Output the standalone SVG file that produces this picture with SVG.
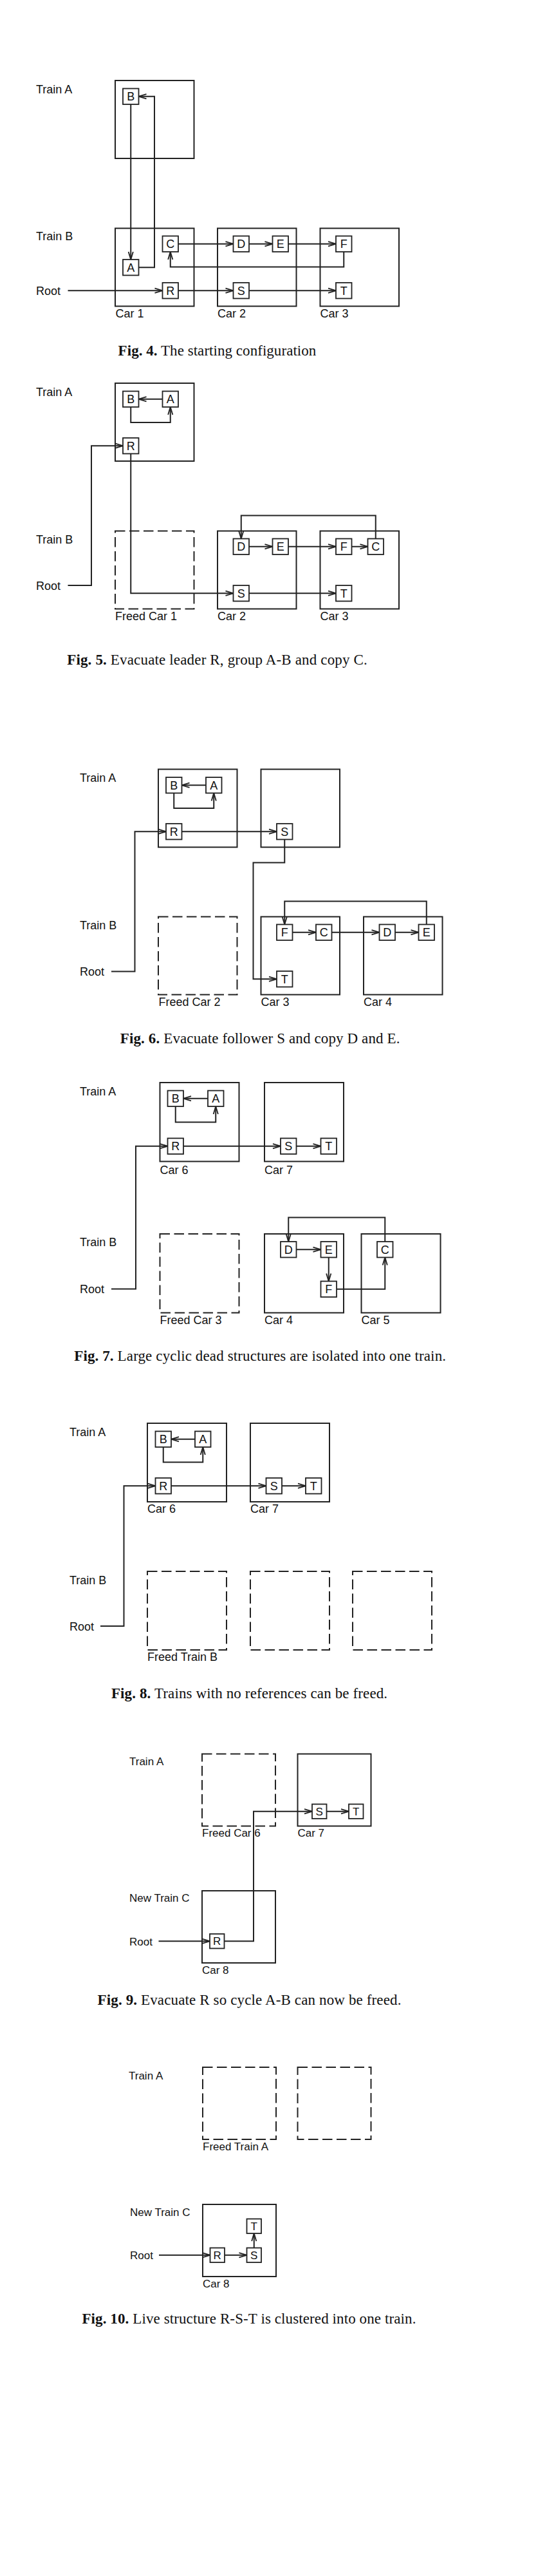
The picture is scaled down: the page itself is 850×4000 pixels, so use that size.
<svg xmlns="http://www.w3.org/2000/svg" width="850" height="4000" viewBox="0 0 850 4000">
<defs>
<style>
.bg{fill:#fff}
.car{fill:none;stroke:#222;stroke-width:2}
.freed{fill:none;stroke:#222;stroke-width:2;stroke-dasharray:15.5 6.5}
.node rect{fill:#fff;stroke:#222;stroke-width:1.8}
.node text{font-family:"Liberation Sans",Arial,sans-serif;font-size:18px;fill:#111;text-anchor:middle}
.sm.node text{font-size:17px}
.conn path{fill:none;stroke:#222;stroke-width:2;marker-end:url(#arr)}
.lbl{font-family:"Liberation Sans",Arial,sans-serif;font-size:18px;fill:#111}
.lbl.sm{font-size:17px}
.cap{font-family:"Liberation Serif","Times New Roman",serif;font-size:23px;fill:#111}
.cap tspan.b{font-weight:bold}
</style>
<marker id="arr" markerUnits="userSpaceOnUse" markerWidth="14" markerHeight="10" refX="12" refY="4" orient="auto" overflow="visible">
<path d="M0,0.4 L12,4 L0,7.6" fill="none" stroke="#222" stroke-width="1.8"/>
</marker>
</defs>
<rect class="bg" x="0" y="0" width="850" height="4000"/>

<!-- ================= Fig 4 ================= -->
<g id="fig4">
<g id="f4-trainA"><rect class="car" x="179" y="125" width="122.5" height="121"/></g>
<g id="f4-car1"><rect class="car" x="179" y="354.5" width="122.5" height="121"/><text class="lbl" x="179.5" y="493">Car 1</text></g>
<g id="f4-car2"><rect class="car" x="338" y="354.5" width="122.5" height="121"/><text class="lbl" x="338" y="493">Car 2</text></g>
<g id="f4-car3"><rect class="car" x="497.5" y="354.5" width="122.5" height="121"/><text class="lbl" x="497.5" y="493">Car 3</text></g>
<g class="conn" id="f4-connectors">
<path d="M203.25,162 V403"/>
<path d="M215.5,415.25 H240 V149.75 H215.5"/>
<path d="M277,378.75 H362.5"/>
<path d="M387,378.75 H423.5"/>
<path d="M448,378.75 H522"/>
<path d="M534.25,391 V414.5 H264.75 V391"/>
<path d="M105.5,451.25 H252.5"/>
<path d="M277,451.25 H362.5"/>
<path d="M387,451.25 H522"/>
</g>
<g class="node" id="f4-B"><rect x="191" y="137.5" width="24.5" height="24.5"/><text x="203.25" y="156.3">B</text></g>
<g class="node" id="f4-A"><rect x="191" y="403" width="24.5" height="24.5"/><text x="203.25" y="421.8">A</text></g>
<g class="node" id="f4-C"><rect x="252.5" y="366.5" width="24.5" height="24.5"/><text x="264.75" y="385.3">C</text></g>
<g class="node" id="f4-D"><rect x="362.5" y="366.5" width="24.5" height="24.5"/><text x="374.75" y="385.3">D</text></g>
<g class="node" id="f4-E"><rect x="423.5" y="366.5" width="24.5" height="24.5"/><text x="435.75" y="385.3">E</text></g>
<g class="node" id="f4-F"><rect x="522" y="366.5" width="24.5" height="24.5"/><text x="534.25" y="385.3">F</text></g>
<g class="node" id="f4-R"><rect x="252.5" y="439" width="24.5" height="24.5"/><text x="264.75" y="457.8">R</text></g>
<g class="node" id="f4-S"><rect x="362.5" y="439" width="24.5" height="24.5"/><text x="374.75" y="457.8">S</text></g>
<g class="node" id="f4-T"><rect x="522" y="439" width="24.5" height="24.5"/><text x="534.25" y="457.8">T</text></g>
<text class="lbl" x="56" y="145">Train A</text>
<text class="lbl" x="56" y="373">Train B</text>
<text class="lbl" x="56" y="457.5">Root</text>
<text class="cap" x="183.6" y="551.7" textLength="307.7"><tspan class="b">Fig. 4.</tspan> The starting configuration</text>
</g>

<!-- ================= Fig 5 ================= -->
<g id="fig5">
<g id="f5-trainA"><rect class="car" x="179" y="595" width="122.5" height="121"/></g>
<g id="f5-freed1"><rect class="freed" x="179" y="824.5" width="122.5" height="121"/><text class="lbl" x="179" y="963">Freed Car 1</text></g>
<g id="f5-car2"><rect class="car" x="338" y="824.5" width="122.5" height="121"/><text class="lbl" x="338" y="963">Car 2</text></g>
<g id="f5-car3"><rect class="car" x="497.5" y="824.5" width="122.5" height="121"/><text class="lbl" x="497.5" y="963">Car 3</text></g>
<g class="conn" id="f5-connectors">
<path d="M252.5,619.75 H215.5"/>
<path d="M203.25,632 V656 H264.75 V632"/>
<path d="M105.5,909 H142 V692.25 H191"/>
<path d="M203.25,704.5 V921.25 H362.5"/>
<path d="M387,848.75 H423.5"/>
<path d="M448,848.75 H522"/>
<path d="M546.5,848.75 H571.5"/>
<path d="M583.75,836.5 V800.5 H374.75 V836.5"/>
<path d="M387,921.25 H522"/>
</g>
<g class="node" id="f5-B"><rect x="191" y="607.5" width="24.5" height="24.5"/><text x="203.25" y="626.3">B</text></g>
<g class="node" id="f5-A"><rect x="252.5" y="607.5" width="24.5" height="24.5"/><text x="264.75" y="626.3">A</text></g>
<g class="node" id="f5-R"><rect x="191" y="680" width="24.5" height="24.5"/><text x="203.25" y="698.8">R</text></g>
<g class="node" id="f5-D"><rect x="362.5" y="836.5" width="24.5" height="24.5"/><text x="374.75" y="855.3">D</text></g>
<g class="node" id="f5-E"><rect x="423.5" y="836.5" width="24.5" height="24.5"/><text x="435.75" y="855.3">E</text></g>
<g class="node" id="f5-F"><rect x="522" y="836.5" width="24.5" height="24.5"/><text x="534.25" y="855.3">F</text></g>
<g class="node" id="f5-C"><rect x="571.5" y="836.5" width="24.5" height="24.5"/><text x="583.75" y="855.3">C</text></g>
<g class="node" id="f5-S"><rect x="362.5" y="909" width="24.5" height="24.5"/><text x="374.75" y="927.8">S</text></g>
<g class="node" id="f5-T"><rect x="522" y="909" width="24.5" height="24.5"/><text x="534.25" y="927.8">T</text></g>
<text class="lbl" x="56" y="615">Train A</text>
<text class="lbl" x="56" y="843.5">Train B</text>
<text class="lbl" x="56" y="915.5">Root</text>
<text class="cap" x="104.2" y="1031.7" textLength="466.6"><tspan class="b">Fig. 5.</tspan> Evacuate leader R, group A-B and copy C.</text>
</g>

<!-- ================= Fig 6 ================= -->
<g id="fig6">
<g id="f6-trainA1"><rect class="car" x="246" y="1194.5" width="122.5" height="121"/></g>
<g id="f6-trainA2"><rect class="car" x="405.5" y="1194.5" width="122.5" height="121"/></g>
<g id="f6-freed2"><rect class="freed" x="246" y="1423.5" width="122.5" height="121"/><text class="lbl" x="246.5" y="1562">Freed Car 2</text></g>
<g id="f6-car3"><rect class="car" x="405.5" y="1423.5" width="122.5" height="121"/><text class="lbl" x="405.5" y="1562">Car 3</text></g>
<g id="f6-car4"><rect class="car" x="565" y="1423.5" width="122.5" height="121"/><text class="lbl" x="565" y="1562">Car 4</text></g>
<g class="conn" id="f6-connectors">
<path d="M320,1219.25 H282.5"/>
<path d="M270.25,1231.5 V1255 H332.25 V1231.5"/>
<path d="M173,1508.5 H209.5 V1291.25 H258"/>
<path d="M282.5,1291.25 H430"/>
<path d="M442.25,1303.5 V1339.5 H393.5 V1520.25 H430"/>
<path d="M454.5,1447.75 H491"/>
<path d="M515.5,1447.75 H589.5"/>
<path d="M614,1447.75 H650.5"/>
<path d="M662.75,1435.5 V1399.5 H442.25 V1435.5"/>
</g>
<g class="node" id="f6-B"><rect x="258" y="1207" width="24.5" height="24.5"/><text x="270.25" y="1225.8">B</text></g>
<g class="node" id="f6-A"><rect x="320" y="1207" width="24.5" height="24.5"/><text x="332.25" y="1225.8">A</text></g>
<g class="node" id="f6-R"><rect x="258" y="1279" width="24.5" height="24.5"/><text x="270.25" y="1297.8">R</text></g>
<g class="node" id="f6-S"><rect x="430" y="1279" width="24.5" height="24.5"/><text x="442.25" y="1297.8">S</text></g>
<g class="node" id="f6-F"><rect x="430" y="1435.5" width="24.5" height="24.5"/><text x="442.25" y="1454.3">F</text></g>
<g class="node" id="f6-C"><rect x="491" y="1435.5" width="24.5" height="24.5"/><text x="503.25" y="1454.3">C</text></g>
<g class="node" id="f6-D"><rect x="589.5" y="1435.5" width="24.5" height="24.5"/><text x="601.75" y="1454.3">D</text></g>
<g class="node" id="f6-E"><rect x="650.5" y="1435.5" width="24.5" height="24.5"/><text x="662.75" y="1454.3">E</text></g>
<g class="node" id="f6-T"><rect x="430" y="1508" width="24.5" height="24.5"/><text x="442.25" y="1526.8">T</text></g>
<text class="lbl" x="124" y="1213.5">Train A</text>
<text class="lbl" x="124" y="1443">Train B</text>
<text class="lbl" x="124" y="1514.5">Root</text>
<text class="cap" x="186.8" y="1620" textLength="434.7"><tspan class="b">Fig. 6.</tspan> Evacuate follower S and copy D and E.</text>
</g>

<!-- ================= Fig 7 ================= -->
<g id="fig7">
<g id="f7-car6"><rect class="car" x="248.5" y="1681" width="123" height="122.5"/><text class="lbl" x="248.5" y="1822.5">Car 6</text></g>
<g id="f7-car7"><rect class="car" x="411" y="1681" width="123" height="122.5"/><text class="lbl" x="411" y="1822.5">Car 7</text></g>
<g id="f7-freed3"><rect class="freed" x="248.5" y="1916" width="123" height="122.5"/><text class="lbl" x="248.5" y="2056">Freed Car 3</text></g>
<g id="f7-car4"><rect class="car" x="411" y="1916" width="123" height="122.5"/><text class="lbl" x="411" y="2056">Car 4</text></g>
<g id="f7-car5"><rect class="car" x="561.5" y="1916" width="123" height="122.5"/><text class="lbl" x="561.5" y="2056">Car 5</text></g>
<g class="conn" id="f7-connectors">
<path d="M323,1705.75 H285"/>
<path d="M272.75,1718 V1742.5 H335.25 V1718"/>
<path d="M173,2001.5 H211 V1779.75 H260.5"/>
<path d="M285,1779.75 H436"/>
<path d="M460.5,1779.75 H498.5"/>
<path d="M460.5,1940.25 H498.5"/>
<path d="M510.75,1952.5 V1989.5"/>
<path d="M523,2001.75 H598.25 V1952.5"/>
<path d="M598.25,1928 V1890.5 H448.25 V1928"/>
</g>
<g class="node" id="f7-B"><rect x="260.5" y="1693.5" width="24.5" height="24.5"/><text x="272.75" y="1712.3">B</text></g>
<g class="node" id="f7-A"><rect x="323" y="1693.5" width="24.5" height="24.5"/><text x="335.25" y="1712.3">A</text></g>
<g class="node" id="f7-R"><rect x="260.5" y="1767.5" width="24.5" height="24.5"/><text x="272.75" y="1786.3">R</text></g>
<g class="node" id="f7-S"><rect x="436" y="1767.5" width="24.5" height="24.5"/><text x="448.25" y="1786.3">S</text></g>
<g class="node" id="f7-T"><rect x="498.5" y="1767.5" width="24.5" height="24.5"/><text x="510.75" y="1786.3">T</text></g>
<g class="node" id="f7-D"><rect x="436" y="1928" width="24.5" height="24.5"/><text x="448.25" y="1946.8">D</text></g>
<g class="node" id="f7-E"><rect x="498.5" y="1928" width="24.5" height="24.5"/><text x="510.75" y="1946.8">E</text></g>
<g class="node" id="f7-F"><rect x="498.5" y="1989.5" width="24.5" height="24.5"/><text x="510.75" y="2008.3">F</text></g>
<g class="node" id="f7-C"><rect x="586" y="1928" width="24.5" height="24.5"/><text x="598.25" y="1946.8">C</text></g>
<text class="lbl" x="124" y="1700.5">Train A</text>
<text class="lbl" x="124" y="1935">Train B</text>
<text class="lbl" x="124" y="2008">Root</text>
<text class="cap" x="115.2" y="2113.3" textLength="577.8"><tspan class="b">Fig. 7.</tspan> Large cyclic dead structures are isolated into one train.</text>
</g>

<!-- ================= Fig 8 ================= -->
<g id="fig8">
<g id="f8-car6"><rect class="car" x="229" y="2210" width="123" height="122"/><text class="lbl" x="229" y="2348.5">Car 6</text></g>
<g id="f8-car7"><rect class="car" x="389" y="2210" width="123" height="122"/><text class="lbl" x="389" y="2348.5">Car 7</text></g>
<g id="f8-freedB1"><rect class="freed" x="229" y="2440" width="123" height="122"/><text class="lbl" x="229" y="2578.5">Freed Train B</text></g>
<g id="f8-freedB2"><rect class="freed" x="389" y="2440" width="123" height="122"/></g>
<g id="f8-freedB3"><rect class="freed" x="548" y="2440" width="123" height="122"/></g>
<g class="conn" id="f8-connectors">
<path d="M303,2234.75 H266"/>
<path d="M253.75,2247 V2270.5 H315.25 V2247"/>
<path d="M156,2525 H192.5 V2307.25 H241.5"/>
<path d="M266,2307.25 H413.5"/>
<path d="M438,2307.25 H475"/>
</g>
<g class="node" id="f8-B"><rect x="241.5" y="2222.5" width="24.5" height="24.5"/><text x="253.75" y="2241.3">B</text></g>
<g class="node" id="f8-A"><rect x="303" y="2222.5" width="24.5" height="24.5"/><text x="315.25" y="2241.3">A</text></g>
<g class="node" id="f8-R"><rect x="241.5" y="2295" width="24.5" height="24.5"/><text x="253.75" y="2313.8">R</text></g>
<g class="node" id="f8-S"><rect x="413.5" y="2295" width="24.5" height="24.5"/><text x="425.75" y="2313.8">S</text></g>
<g class="node" id="f8-T"><rect x="475" y="2295" width="24.5" height="24.5"/><text x="487.25" y="2313.8">T</text></g>
<text class="lbl" x="108" y="2229.5">Train A</text>
<text class="lbl" x="108" y="2460">Train B</text>
<text class="lbl" x="108" y="2531.5">Root</text>
<text class="cap" x="172.9" y="2636.7" textLength="429.2"><tspan class="b">Fig. 8.</tspan> Trains with no references can be freed.</text>
</g>

<!-- ================= Fig 9 ================= -->
<g id="fig9">
<g id="f9-freed6"><rect class="freed" x="314" y="2723.5" width="114" height="112"/><text class="lbl sm" x="314" y="2851.5">Freed Car 6</text></g>
<g id="f9-car7"><rect class="car" x="462.5" y="2723.5" width="114" height="112"/><text class="lbl sm" x="462.5" y="2851.5">Car 7</text></g>
<g id="f9-car8"><rect class="car" x="314" y="2936" width="114" height="112"/><text class="lbl sm" x="314" y="3065">Car 8</text></g>
<g class="conn" id="f9-connectors">
<path d="M348.5,3014.25 H394 V2812.75 H485"/>
<path d="M507.5,2812.75 H542"/>
<path d="M246.5,3014.25 H326"/>
</g>
<g class="node sm" id="f9-S"><rect x="485" y="2801.5" width="22.5" height="22.5"/><text x="496.25" y="2818.9">S</text></g>
<g class="node sm" id="f9-T"><rect x="542" y="2801.5" width="22.5" height="22.5"/><text x="553.25" y="2818.9">T</text></g>
<g class="node sm" id="f9-R"><rect x="326" y="3003" width="22.5" height="22.5"/><text x="337.25" y="3020.4">R</text></g>
<text class="lbl sm" x="201" y="2740.5">Train A</text>
<text class="lbl sm" x="201" y="2953">New Train C</text>
<text class="lbl sm" x="201" y="3020.5">Root</text>
<text class="cap" x="151.6" y="3113.3" textLength="471.8"><tspan class="b">Fig. 9.</tspan> Evacuate R so cycle A-B can now be freed.</text>
</g>

<!-- ================= Fig 10 ================= -->
<g id="fig10">
<g id="f10-freedA1"><rect class="freed" x="315" y="3210" width="114" height="112"/><text class="lbl sm" x="315" y="3338.5">Freed Train A</text></g>
<g id="f10-freedA2"><rect class="freed" x="462.5" y="3210" width="114" height="112"/></g>
<g id="f10-car8"><rect class="car" x="315" y="3423" width="114" height="112"/><text class="lbl sm" x="315" y="3552">Car 8</text></g>
<g class="conn" id="f10-connectors">
<path d="M247,3501.75 H326.5"/>
<path d="M349,3501.75 H383.5"/>
<path d="M394.75,3490.5 V3468"/>
</g>
<g class="node sm" id="f10-T"><rect x="383.5" y="3445.5" width="22.5" height="22.5"/><text x="394.75" y="3462.9">T</text></g>
<g class="node sm" id="f10-R"><rect x="326.5" y="3490.5" width="22.5" height="22.5"/><text x="337.75" y="3507.9">R</text></g>
<g class="node sm" id="f10-S"><rect x="383.5" y="3490.5" width="22.5" height="22.5"/><text x="394.75" y="3507.9">S</text></g>
<text class="lbl sm" x="200" y="3228.5">Train A</text>
<text class="lbl sm" x="202" y="3440.5">New Train C</text>
<text class="lbl sm" x="202" y="3507.5">Root</text>
<text class="cap" x="127.4" y="3608.3" textLength="519"><tspan class="b">Fig. 10.</tspan> Live structure R-S-T is clustered into one train.</text>
</g>
</svg>
